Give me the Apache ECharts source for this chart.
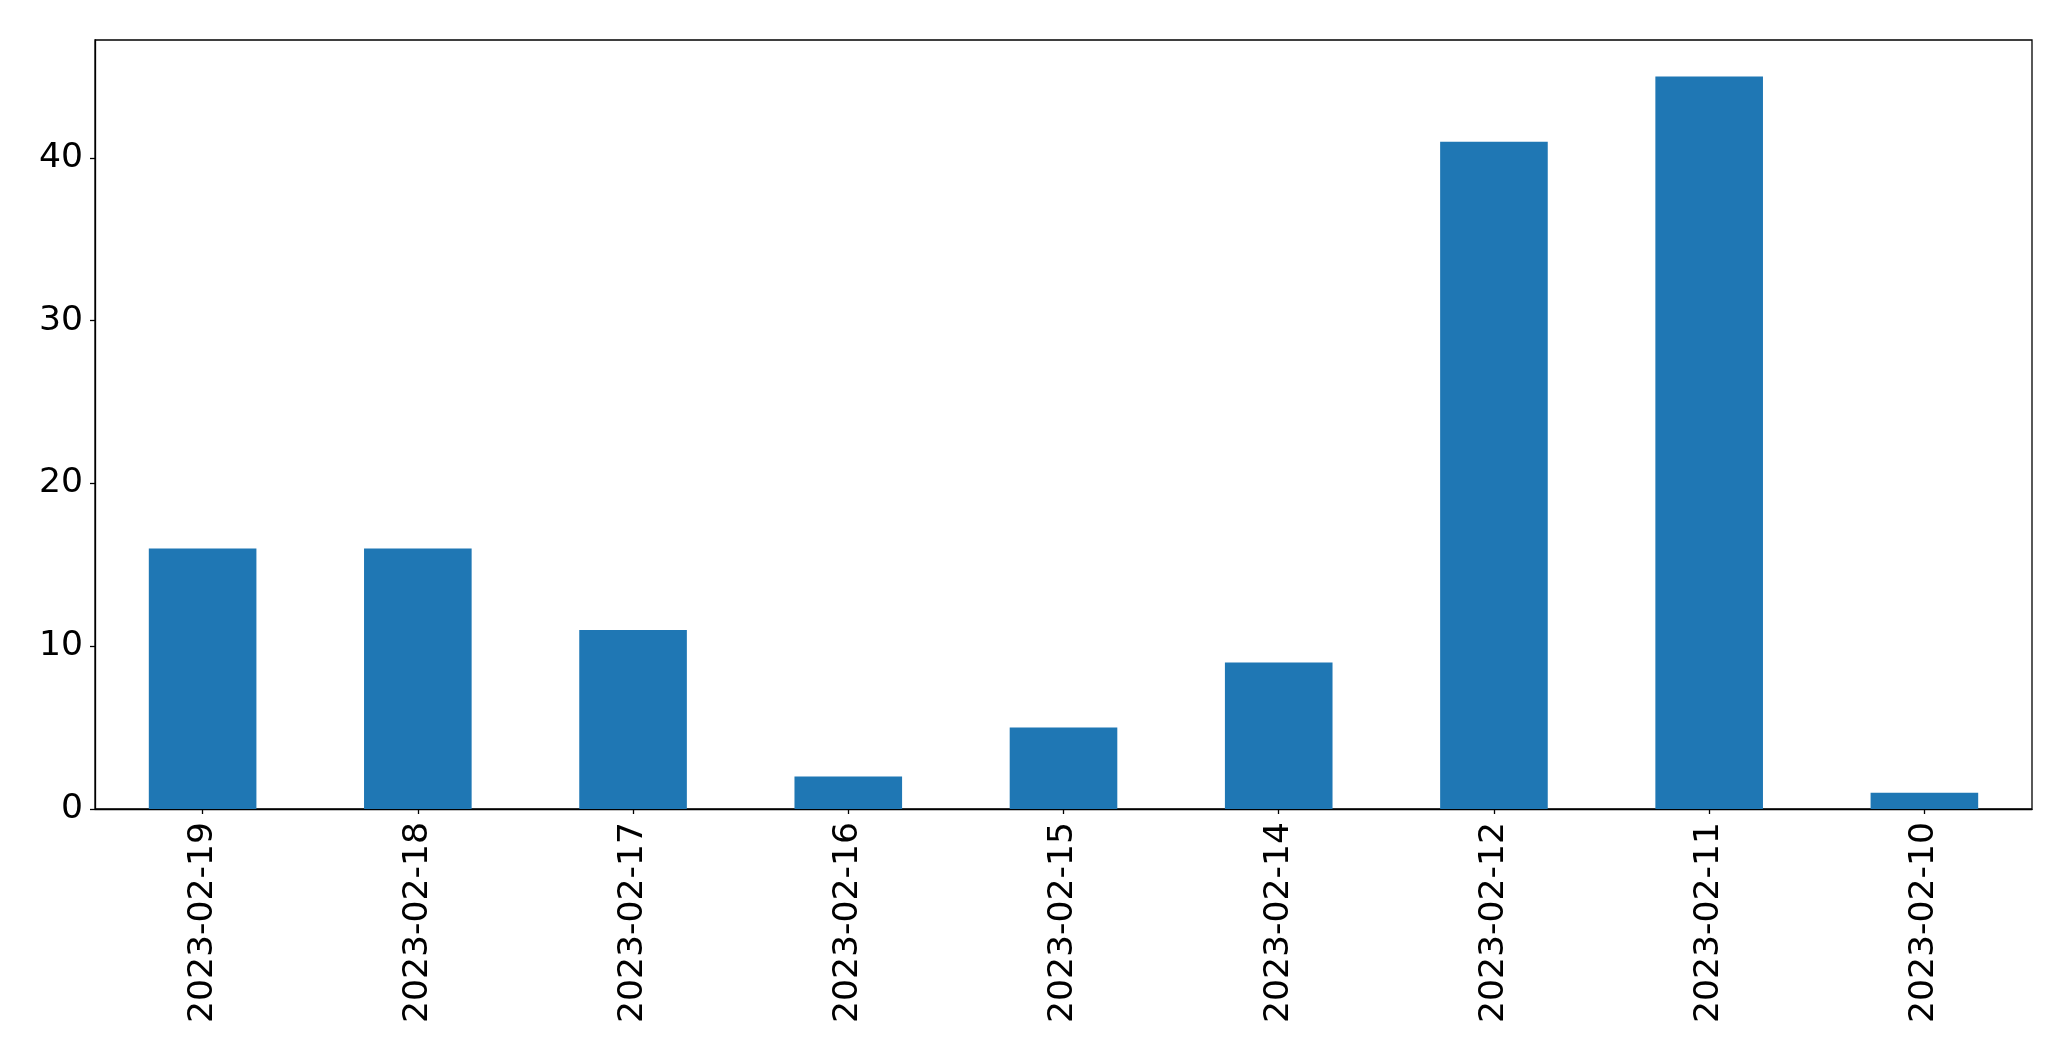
<!DOCTYPE html>
<html>
<head>
<meta charset="utf-8">
<script src="https://cdn.jsdelivr.net/npm/echarts@6/dist/echarts.min.js"></script>
<style>html,body{margin:0;padding:0;background:#fff}#c{width:2071px;height:1061px}</style>
</head>
<body>
<div id="c"></div>
<script>
const categories = ["2023-02-19","2023-02-18","2023-02-17","2023-02-16","2023-02-15","2023-02-14","2023-02-12","2023-02-11","2023-02-10"];
const values = [16, 16, 11, 2, 5, 9, 41, 45, 1];
const yTicks = [0, 10, 20, 30, 40];

const chart = echarts.init(document.getElementById('c'), null, {renderer: 'canvas'});
chart.setOption({
  animation: false,
  grid: {left: 95, top: 40, right: 39, bottom: 252, show: true, borderColor: '#000', borderWidth: 1.3, backgroundColor: 'transparent'},
  xAxis: {
    type: 'category',
    data: categories,
    boundaryGap: true,
    axisLine: {show: true, lineStyle: {color: '#000', width: 1.3}},
    axisTick: {show: true, alignWithLabel: true, length: 5, lineStyle: {color: '#000', width: 1.3}},
    axisLabel: {rotate: 90, color: '#000', fontSize: 34.6, fontFamily: 'DejaVu Sans', margin: 13, interval: 0}
  },
  yAxis: {
    type: 'value',
    min: 0,
    max: 47.25,
    interval: 10,
    splitLine: {show: false},
    axisLine: {show: true, lineStyle: {color: '#000', width: 1.3}},
    axisTick: {show: true, length: 5, lineStyle: {color: '#000', width: 1.3}, customValues: yTicks},
    axisLabel: {color: '#000', fontSize: 34.6, fontFamily: 'DejaVu Sans', margin: 12, customValues: yTicks}
  },
  series: [{
    type: 'bar',
    data: values,
    barWidth: '50%',
    itemStyle: {color: '#1f77b4'}
  }]
});
</script>
</body>
</html>
